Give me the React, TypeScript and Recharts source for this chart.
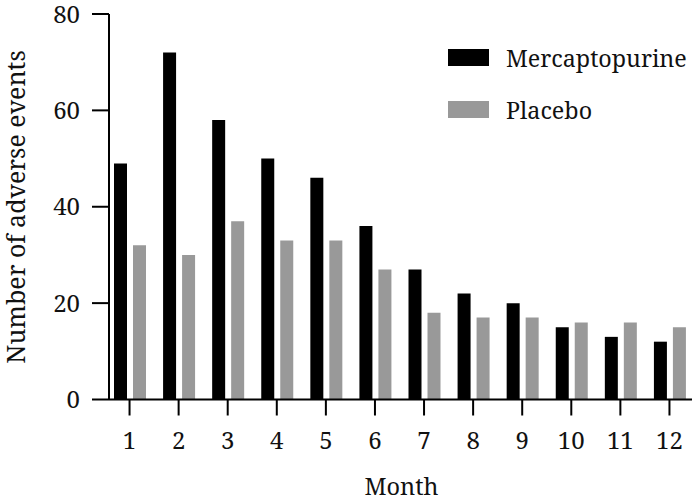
import React from "react";
import { BarChart, Bar, XAxis, YAxis, Label } from "recharts";

const months = ["1", "2", "3", "4", "5", "6", "7", "8", "9", "10", "11", "12"];
const mercaptopurine = [49, 72, 58, 50, 46, 36, 27, 22, 20, 15, 13, 12];
const placebo = [32, 30, 37, 33, 33, 27, 18, 17, 17, 16, 16, 15];
const yTicks = [0, 20, 40, 60, 80];

const FONT = "'Noto Serif', 'Liberation Serif', serif";
const BLACK = "#000000";
const GREY = "#999999";
const TEXT = "#111111";

const data = months.map((m, i) => ({
  month: m,
  mercaptopurine: mercaptopurine[i],
  placebo: placebo[i],
}));

const seriesInfo = [
  { key: "mercaptopurine", name: "Mercaptopurine", color: BLACK },
  { key: "placebo", name: "Placebo", color: GREY },
];

// legend drawn as an overlay, top right of the plot
function LegendBox() {
  return (
    <svg
      width={692}
      height={499}
      style={{ position: "absolute", left: 0, top: 0, pointerEvents: "none" }}
    >
      {seriesInfo.map((s, i) => (
        <g key={s.key} transform={`translate(448, ${49 + i * 52})`}>
          <rect x={0} y={0} width={41} height={17} fill={s.color} />
          <text x={58} y={18} fontSize={23.3} fontFamily={FONT} fill={TEXT}>
            {s.name}
          </text>
        </g>
      ))}
    </svg>
  );
}

export default function App() {
  return (
    <div
      style={{
        position: "fixed",
        left: 0,
        top: 0,
        width: 692,
        height: 499,
        overflow: "hidden",
        background: "#fff",
      }}
    >
      <BarChart
        width={700}
        height={499}
        data={data}
        margin={{ top: 14, right: 6, bottom: 0, left: 0 }}
        barCategoryGap={9}
        barGap={6}
      >
        <XAxis
          dataKey="month"
          height={99.5}
          padding={{ left: -4, right: 0 }}
          axisLine={{ stroke: BLACK, strokeWidth: 2 }}
          tickLine={{ stroke: BLACK, strokeWidth: 2 }}
          tickSize={16}
          tickMargin={16}
          tick={{ fill: TEXT, fontSize: 24, fontFamily: FONT }}
          interval={0}
        >
          <Label
            value="Month"
            position="insideBottom"
            offset={4}
            style={{ fill: TEXT, fontSize: 23.5, fontFamily: FONT }}
          />
        </XAxis>
        <YAxis
          width={109}
          domain={[0, 80]}
          ticks={yTicks}
          axisLine={{ stroke: BLACK, strokeWidth: 2 }}
          tickLine={{ stroke: BLACK, strokeWidth: 2 }}
          tickSize={17}
          tickMargin={12}
          tick={{ fill: TEXT, fontSize: 24, fontFamily: FONT }}
        >
          <Label
            content={() => (
              <text
                x={0}
                y={0}
                transform="translate(25,207) rotate(-90)"
                textAnchor="middle"
                fill={TEXT}
                fontSize={25}
                fontFamily={FONT}
              >
                Number of adverse events
              </text>
            )}
          />
        </YAxis>
        {seriesInfo.map((s) => (
          <Bar key={s.key} dataKey={s.key} name={s.name} fill={s.color} isAnimationActive={false} />
        ))}
      </BarChart>
      <LegendBox />
    </div>
  );
}
